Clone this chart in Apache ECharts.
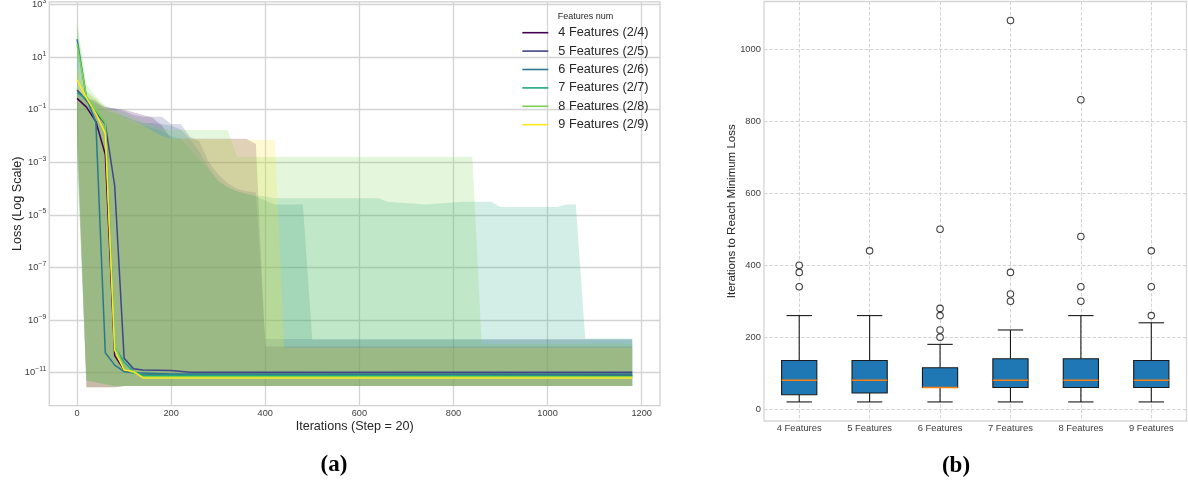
<!DOCTYPE html>
<html><head><meta charset="utf-8">
<script src="https://cdn.jsdelivr.net/npm/echarts@6/dist/echarts.min.js"></script>
<style>html,body{margin:0;padding:0;background:#fff}#c{width:1188px;height:486px}</style>
</head><body><div id="c"></div>
<script>
// ---------- Panel (a): loss curves, values are log10(loss) ----------
const seriesNames = ['4 Features (2/4)','5 Features (2/5)','6 Features (2/6)','7 Features (2/7)','8 Features (2/8)','9 Features (2/9)'];
const lineColors = ['#440154','#414487','#2a788e','#22a884','#7ad151','#fde725'];
const xTicks = [0,200,400,600,800,1000,1200];
const yTicksExp = [-11,-9,-7,-5,-3,-1,1,3];

// mean loss lines [iteration, log10(loss)]
const logLoss4 = [[0,-0.57],[20,-0.9],[40,-1.45],[60,-2.7],[80,-10.35],[100,-10.9],[120,-11.0],[140,-11.1],[1180,-11.1]];
const logLoss5 = [[0,-0.25],[20,-0.65],[40,-1.1],[60,-1.54],[80,-3.9],[100,-10.45],[120,-10.85],[140,-10.9],[200,-10.92],[240,-10.98],[1180,-10.98]];
const logLoss6 = [[0,1.68],[20,-0.55],[40,-1.49],[60,-10.24],[80,-10.71],[100,-10.96],[120,-11.0],[200,-11.05],[1180,-11.05]];
const logLoss7 = [[0,-0.35],[20,-0.6],[40,-1.05],[60,-1.5],[80,-10.0],[100,-10.6],[120,-10.95],[140,-11.1],[1180,-11.12]];
const logLoss8 = [[0,1.5],[20,-0.5],[40,-1.0],[60,-1.5],[80,-9.9],[100,-10.85],[120,-11.0],[140,-11.15],[1180,-11.15]];
const logLoss9 = [[0,0.13],[20,-0.55],[40,-1.15],[60,-1.9],[80,-10.14],[100,-10.9],[120,-10.95],[140,-11.2],[1180,-11.2]];

// shaded range upper / lower bounds [iteration, log10(loss)]
const bandUpper4 = [[0,-0.3],[20,-0.6],[40,-0.75],[60,-0.9],[80,-0.95],[100,-1.0],[120,-1.1],[140,-1.2],[160,-1.3],[180,-1.6],[200,-2.1],[360,-2.1],[380,-2.3],[400,-10.0],[1180,-10.0]];
const bandLower4 = [[0,-1.5],[20,-11.55],[80,-11.55],[100,-11.5],[1180,-11.5]];
const bandUpper5 = [[0,-0.2],[20,-0.55],[40,-0.65],[60,-0.9],[80,-0.95],[100,-1.05],[120,-1.2],[140,-1.27],[180,-1.27],[200,-1.54],[220,-1.54],[240,-2.03],[260,-2.2],[280,-3.0],[300,-3.45],[320,-3.8],[340,-4.0],[360,-4.1],[380,-4.15],[400,-9.72],[1180,-9.72]];
const bandLower5 = [[0,-2.0],[20,-11.55],[80,-11.55],[100,-11.5],[1180,-11.5]];
const bandUpper6 = [[0,1.7],[20,-0.5],[40,-0.7],[60,-1.0],[80,-1.1],[100,-1.25],[120,-1.4],[140,-1.5],[160,-1.5],[180,-1.55],[200,-1.6],[220,-1.75],[240,-2.1],[260,-2.6],[280,-3.2],[300,-3.7],[320,-3.95],[340,-4.1],[360,-4.2],[380,-4.3],[400,-4.45],[420,-4.6],[480,-4.6],[500,-9.75],[1180,-9.75]];
const bandLower6 = [[0,-2.5],[20,-11.3],[80,-11.5],[1180,-11.5]];
const bandUpper7 = [[0,2.1],[20,-0.3],[40,-0.6],[60,-1.0],[80,-1.15],[100,-1.3],[120,-1.5],[140,-1.6],[160,-1.7],[180,-1.8],[200,-2.0],[220,-2.1],[240,-2.5],[260,-2.9],[280,-3.3],[300,-3.7],[320,-3.95],[340,-4.1],[360,-4.2],[380,-4.25],[400,-4.3],[420,-4.37],[640,-4.37],[660,-4.5],[740,-4.6],[820,-4.5],[880,-4.5],[900,-4.7],[1020,-4.7],[1040,-4.6],[1060,-4.6],[1080,-9.7],[1180,-9.7]];
const bandLower7 = [[0,-2.0],[20,-11.3],[80,-11.5],[1180,-11.5]];
const bandUpper8 = [[0,2.4],[20,-0.05],[40,-0.5],[60,-0.85],[80,-1.0],[100,-1.1],[120,-1.3],[140,-1.45],[160,-1.6],[180,-1.7],[200,-1.77],[320,-1.77],[340,-2.79],[840,-2.79],[860,-9.9],[1180,-9.9]];
const bandLower8 = [[0,-3.0],[20,-11.3],[80,-11.5],[1180,-11.5]];
const bandUpper9 = [[0,0.6],[20,-0.35],[40,-0.6],[60,-0.95],[80,-1.1],[100,-1.3],[120,-1.45],[140,-1.6],[160,-1.8],[180,-2.0],[200,-2.1],[420,-2.15],[440,-10.05],[1180,-10.05]];
const bandLower9 = [[0,-2.0],[20,-11.55],[80,-11.55],[100,-11.5],[1180,-11.5]];

// ---------- Panel (b): boxplot ----------
const boxCategories = ['4 Features','5 Features','6 Features','7 Features','8 Features','9 Features'];
const boxMin    = [20,20,20,20,20,20];
const boxQ1     = [40,45,60,60,60,60];
const boxMedian = [80,80,60,80,80,80];
const boxQ3     = [135,135,115,140,140,135];
const boxMax    = [260,260,180,220,260,240];
const boxOutliers = [[340,380,400],[440],[200,220,260,280,500],[300,320,380,1080],[300,340,480,860],[260,340,440]];
const boxYTicks = [0,200,400,600,800,1000];

// ---------- build ----------
const FONT = "'Liberation Sans', Arial, Helvetica, sans-serif";
const lines = [logLoss4,logLoss5,logLoss6,logLoss7,logLoss8,logLoss9];
const uppers = [bandUpper4,bandUpper5,bandUpper6,bandUpper7,bandUpper8,bandUpper9];
const lowers = [bandLower4,bandLower5,bandLower6,bandLower7,bandLower8,bandLower9];

function hexA(hex, a){const n=parseInt(hex.slice(1),16);return 'rgba('+(n>>16&255)+','+(n>>8&255)+','+(n&255)+','+a+')';}
const plain = v => String(Math.round(v));

const series = [];
uppers.forEach((up, k) => {
  const poly = up.concat(lowers[k].slice().reverse());
  const fill = hexA(lineColors[k], 0.2);
  series.push({
    type: 'custom', xAxisIndex: 0, yAxisIndex: 0, data: poly, encode: {x: 0, y: 1},
    silent: true, z: 1,
    renderItem: function (params, api) {
      if (params.dataIndexInside !== 0) return;
      const pts = [];
      for (let i = 0; i < params.dataInsideLength; i++) pts.push(api.coord([api.value(0, i), api.value(1, i)]));
      return {type: 'polygon', shape: {points: pts}, style: {fill: fill, stroke: null}};
    }
  });
});
lines.forEach((d, k) => {
  series.push({
    type: 'line', name: seriesNames[k], xAxisIndex: 0, yAxisIndex: 0, data: d,
    showSymbol: false, symbol: 'none', z: 3,
    lineStyle: {width: 1.5, color: lineColors[k]}, itemStyle: {color: lineColors[k]}
  });
});
const boxData = boxCategories.map((c, i) => [i + 1, boxMin[i], boxQ1[i], boxMedian[i], boxQ3[i], boxMax[i]]);
series.push({
  type: 'custom', xAxisIndex: 1, yAxisIndex: 1, data: boxData, encode: {x: 0, y: [1, 5]}, z: 3, silent: true,
  renderItem: function (params, api) {
    const x = api.value(0);
    const pMin = api.coord([x, api.value(1)]), pQ1 = api.coord([x, api.value(2)]), pMed = api.coord([x, api.value(3)]);
    const pQ3 = api.coord([x, api.value(4)]), pMax = api.coord([x, api.value(5)]);
    const bw = api.size([0.5, 0])[0], cw = api.size([0.36, 0])[0];
    const cx = pMin[0];
    const ls = {stroke: '#1a1a1a', lineWidth: 1.1};
    return {type: 'group', children: [
      {type: 'line', shape: {x1: cx, y1: pQ1[1], x2: cx, y2: pMin[1]}, style: ls},
      {type: 'line', shape: {x1: cx, y1: pQ3[1], x2: cx, y2: pMax[1]}, style: ls},
      {type: 'line', shape: {x1: cx - cw / 2, y1: pMin[1], x2: cx + cw / 2, y2: pMin[1]}, style: ls},
      {type: 'line', shape: {x1: cx - cw / 2, y1: pMax[1], x2: cx + cw / 2, y2: pMax[1]}, style: ls},
      {type: 'rect', shape: {x: cx - bw / 2, y: pQ3[1], width: bw, height: pQ1[1] - pQ3[1]}, style: {fill: '#1f77b4', stroke: '#1a1a1a', lineWidth: 1.1}},
      {type: 'line', shape: {x1: cx - bw / 2, y1: pMed[1], x2: cx + bw / 2, y2: pMed[1]}, style: {stroke: '#ff7f0e', lineWidth: 1.5}}
    ]};
  }
});
const outlierPts = [];
boxOutliers.forEach((arr, i) => arr.forEach(v => outlierPts.push([i + 1, v])));
series.push({
  type: 'scatter', xAxisIndex: 1, yAxisIndex: 1, data: outlierPts, symbol: 'circle', symbolSize: 6.5, z: 4,
  itemStyle: {color: '#ffffff', borderColor: '#111', borderWidth: 1.1}, silent: true
});

const gridLineA = {show: true, lineStyle: {color: '#d4d4d4', width: 1.3}};
const gridLineB = {show: true, lineStyle: {color: '#cfcfcf', width: 0.9, type: [3.5, 1.8]}};
const tickLabel = {color: '#3c3c3c', fontFamily: FONT, fontSize: 9.2};

const option = {
  animation: false,
  backgroundColor: '#ffffff',
  grid: [
    {left: 49.3, top: 1.9, width: 610.7, height: 403.7, show: true, borderColor: '#d0d0d0', borderWidth: 1.3, containLabel: false, outerBoundsMode: 'none'},
    {left: 764, top: 1.5, width: 422.5, height: 419.5, show: true, borderColor: '#d6d6d6', borderWidth: 1.3, containLabel: false, outerBoundsMode: 'none'}
  ],
  xAxis: [
    {type: 'value', gridIndex: 0, min: -59, max: 1239,
     axisLine: {show: false}, axisTick: {show: false, customValues: xTicks},
     axisLabel: Object.assign({customValues: xTicks, margin: 3, formatter: plain}, tickLabel),
     splitLine: gridLineA,
     name: 'Iterations (Step = 20)', nameLocation: 'middle', nameGap: 14, nameMoveOverlap: false,
     nameTextStyle: {fontFamily: FONT, fontSize: 12.6, color: '#262626', verticalAlign: 'top'}},
    {type: 'value', gridIndex: 1, min: 0.5, max: 6.5,
     axisLine: {show: false}, axisTick: {show: false, customValues: [1,2,3,4,5,6]},
     axisLabel: Object.assign({}, tickLabel, {fontSize: 9.4, customValues: [1,2,3,4,5,6], margin: 3, formatter: v => boxCategories[Math.round(v) - 1] || ''}),
     splitLine: gridLineB}
  ],
  yAxis: [
    {type: 'value', gridIndex: 0, min: -12.25, max: 3.1,
     axisLine: {show: false}, axisTick: {show: false, customValues: yTicksExp},
     axisLabel: {customValues: yTicksExp, margin: 3,
       formatter: v => '{b|10}{s|' + (v < 0 ? '\u2212' : '') + Math.abs(v) + '}',
       rich: {b: {fontFamily: FONT, fontSize: 9.4, lineHeight: 14, color: '#3c3c3c'},
              s: {fontFamily: FONT, fontSize: 6.8, lineHeight: 7, verticalAlign: 'top', color: '#3c3c3c'}}},
     splitLine: gridLineA,
     name: 'Loss (Log Scale)', nameLocation: 'middle', nameGap: 25, nameMoveOverlap: false,
     nameTextStyle: {fontFamily: FONT, fontSize: 12.6, color: '#262626'}},
    {type: 'value', gridIndex: 1, min: -33, max: 1133,
     axisLine: {show: false}, axisTick: {show: false, customValues: boxYTicks},
     axisLabel: Object.assign({}, tickLabel, {fontSize: 9.4, customValues: boxYTicks, margin: 3, formatter: plain}),
     splitLine: gridLineB,
     name: 'Iterations to Reach Minimum Loss', nameLocation: 'middle', nameGap: 26, nameMoveOverlap: false,
     nameTextStyle: {fontFamily: FONT, fontSize: 11.5, color: '#262626'}}
  ],
  legend: {
    data: seriesNames, orient: 'vertical', left: 522.3, top: 25.7, padding: 0,
    icon: 'rect', itemWidth: 26, itemHeight: 1.6, itemGap: 4.4, selectedMode: false,
    textStyle: {fontFamily: FONT, fontSize: 12.7, color: '#262626', lineHeight: 14, padding: [0, 0, 0, 5]}
  },
  graphic: [
    {type: 'text', x: 557.7, y: 16.3, style: {text: 'Features num', font: "9px 'Liberation Sans', Arial, sans-serif", fill: '#262626', textAlign: 'left', textVerticalAlign: 'middle'}},
    {type: 'text', x: 334, y: 465, style: {text: '(a)', font: "bold 23px 'Liberation Serif', 'Times New Roman', serif", fill: '#000', textAlign: 'center', textVerticalAlign: 'middle'}},
    {type: 'text', x: 956, y: 466, style: {text: '(b)', font: "bold 23px 'Liberation Serif', 'Times New Roman', serif", fill: '#000', textAlign: 'center', textVerticalAlign: 'middle'}}
  ],
  series: series
};
const chart = echarts.init(document.getElementById('c'), null, {renderer: 'canvas'});
chart.setOption(option);
</script></body></html>
